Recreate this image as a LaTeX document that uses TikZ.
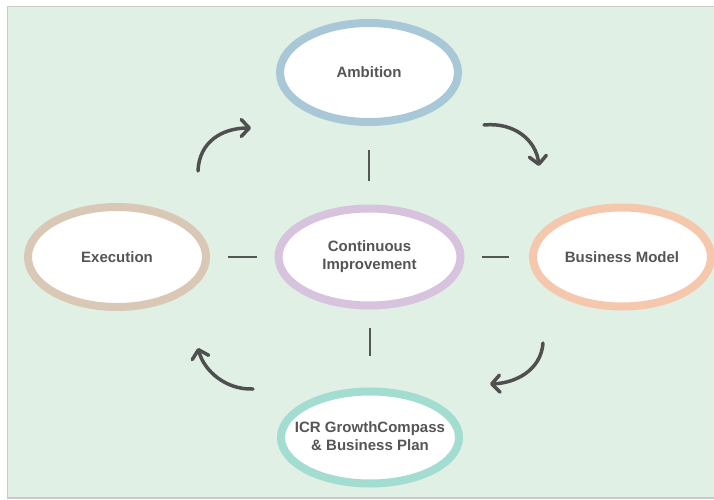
\documentclass[tikz,border=0pt]{standalone}
\usepackage{fontspec}
\setmainfont{Liberation Sans}
\usetikzlibrary{shapes.geometric,arrows.meta}
\definecolor{bgc}{HTML}{E1F0E4}
\definecolor{frame}{HTML}{CACACA}
\definecolor{txt}{HTML}{555555}
\definecolor{arr}{HTML}{4F4F4F}
\definecolor{cAmb}{HTML}{A8C8D8}
\definecolor{cExe}{HTML}{D9C8B6}
\definecolor{cCon}{HTML}{D7C3DD}
\definecolor{cBus}{HTML}{F5C8AE}
\definecolor{cIcr}{HTML}{A3DCD0}
\begin{document}
\begin{tikzpicture}[x=1pt,y=-1pt,
  oval/.style={ellipse, draw=#1, line width=8pt, fill=white, inner sep=0pt,
    font=\bfseries\fontsize{15}{18}\selectfont, text=txt, align=center},
  link/.style={draw=txt, line width=2pt},
  curvy/.style={draw=arr, line width=3.5pt, line cap=round,
    -{Straight Barb[length=8pt,width=17pt,line cap=round,line join=round]}}
]
\useasboundingbox (0,0) rectangle (714,500);
\fill[white] (0,0) rectangle (714,500);
\draw[fill=bgc, draw=frame, line width=1.5pt] (7.5,6.5) rectangle (720,498);

\node[oval=cAmb, minimum width=178pt, minimum height=99pt] (amb) at (369,72.5) {Ambition};
\node[oval=cExe, minimum width=178pt, minimum height=100pt] (exe) at (117,257) {Execution};
\node[oval=cCon, minimum width=182pt, minimum height=97pt] (con) at (369.5,257) {\raisebox{-3pt}{\begin{tabular}{@{}c@{}}Continuous\\Improvement\end{tabular}}};
\node[oval=cBus, minimum width=178pt, minimum height=99pt] (bus) at (622,257) {Business Model};
\node[oval=cIcr, minimum width=178pt, minimum height=92pt, inner xsep=-14pt] (icr) at (370,437.5) {\raisebox{2pt}{\begin{tabular}{@{}c@{}}ICR GrowthCompass\\\& Business Plan\end{tabular}}};

\draw[link, shorten <=24pt, shorten >=24pt] (amb.south) -- (amb.south |- con.north);
\draw[link, shorten <=18pt, shorten >=32pt] (con.south) -- (con.south |- icr.north);
\draw[link, shorten <=18pt, shorten >=18pt] (exe.east) -- (con.west);
\draw[link, shorten <=17pt, shorten >=20pt] (con.east) -- (bus.west);

\coordinate (a1s) at (198,171);
\coordinate (a1e) at (251,128);
\coordinate (a2s) at (484,125);
\coordinate (a2e) at (539,166);
\coordinate (a3s) at (543,343);
\coordinate (a3e) at (490,384);
\coordinate (a4s) at (253,389);
\coordinate (a4e) at (198,348);
\draw[curvy] (a1s) .. controls (199,142) and (222,128) .. (a1e);
\draw[curvy] (a2s) .. controls (514,122) and (536,140) .. (a2e);
\draw[curvy] (a3s) .. controls (541,370) and (516,383) .. (a3e);
\draw[curvy] (a4s) .. controls (226,390) and (204,371) .. (a4e);
\end{tikzpicture}
\end{document}
